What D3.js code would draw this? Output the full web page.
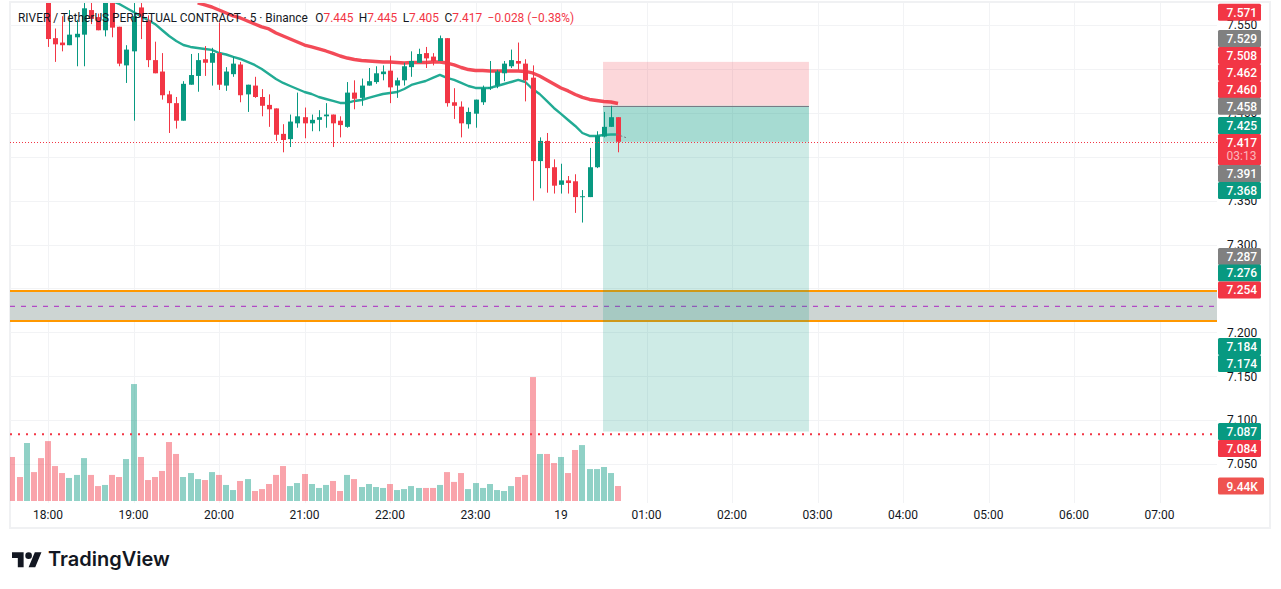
<!DOCTYPE html>
<html>
<head>
<meta charset="utf-8">
<script src="https://cdnjs.cloudflare.com/ajax/libs/d3/7.8.5/d3.min.js"></script>
<style>
  html, body { margin: 0; padding: 0; background: #fff; overflow: hidden; }
  text { font-family: Roboto, sans-serif; }
</style>
</head>
<body>
<div id="chart"></div>
<script>
// first bar in the lists below sits 5 bars before 18:00
let firstBar = -5;

let open = [7.66,7.645,7.635,7.66,7.645,7.615,
  7.535,7.530,7.527,7.536,7.539,7.567,7.559,7.544,7.575,7.548,
  7.504,7.520,7.570,7.555,7.510,7.497,7.471,7.461,7.441,7.482,
  7.492,7.511,7.507,7.518,7.481,7.494,7.505,7.471,7.481,7.468,
  7.459,7.455,7.426,7.420,7.438,7.445,7.438,7.442,7.446,7.448,
  7.441,7.434,7.473,7.467,7.481,7.485,7.494,7.498,7.481,7.487,
  7.502,7.507,7.518,7.514,7.509,7.535,7.462,7.457,7.437,7.449,
  7.462,7.478,7.481,7.495,7.503,7.509,7.506,7.490,7.395,7.418,
  7.388,7.368,7.373,7.372,7.354,7.354,7.388,7.423,7.434,7.445];
let high = [7.665,7.65,7.665,7.665,7.65,7.62,
  7.546,7.560,7.567,7.556,7.575,7.578,7.563,7.585,7.577,7.548,
  7.527,7.575,7.575,7.561,7.531,7.518,7.475,7.468,7.486,7.517,
  7.518,7.526,7.524,7.553,7.502,7.514,7.508,7.482,7.491,7.477,
  7.471,7.455,7.437,7.448,7.473,7.456,7.448,7.453,7.461,7.448,
  7.446,7.485,7.487,7.489,7.501,7.503,7.504,7.515,7.490,7.507,
  7.520,7.523,7.525,7.518,7.538,7.535,7.478,7.463,7.456,7.465,
  7.481,7.509,7.499,7.509,7.522,7.530,7.511,7.504,7.422,7.427,
  7.397,7.392,7.378,7.380,7.362,7.410,7.429,7.451,7.458,7.445];
let low = [7.64,7.63,7.63,7.64,7.61,7.525,
  7.508,7.520,7.527,7.503,7.503,7.551,7.544,7.537,7.536,7.503,
  7.484,7.441,7.534,7.502,7.495,7.465,7.427,7.432,7.441,7.482,
  7.474,7.492,7.481,7.476,7.475,7.491,7.462,7.451,7.467,7.446,
  7.434,7.418,7.405,7.411,7.433,7.421,7.429,7.429,7.433,7.411,
  7.422,7.433,7.454,7.458,7.481,7.483,7.487,7.461,7.467,7.481,
  7.491,7.507,7.501,7.504,7.509,7.457,7.443,7.422,7.432,7.433,
  7.459,7.476,7.478,7.486,7.501,7.499,7.463,7.350,7.364,7.359,
  7.358,7.358,7.358,7.336,7.325,7.354,7.387,7.422,7.434,7.405];
let close = [7.645,7.635,7.66,7.645,7.615,7.534,
  7.528,7.527,7.539,7.540,7.569,7.557,7.544,7.577,7.547,7.506,
  7.522,7.560,7.560,7.510,7.495,7.470,7.461,7.441,7.483,7.493,
  7.510,7.507,7.518,7.482,7.497,7.506,7.470,7.482,7.468,7.458,
  7.454,7.425,7.419,7.440,7.446,7.438,7.442,7.445,7.448,7.438,
  7.436,7.473,7.466,7.481,7.486,7.495,7.497,7.479,7.487,7.503,
  7.509,7.517,7.512,7.509,7.535,7.461,7.458,7.438,7.451,7.465,
  7.478,7.479,7.497,7.506,7.510,7.506,7.487,7.395,7.418,7.387,
  7.367,7.373,7.370,7.354,7.355,7.388,7.424,7.434,7.445,7.417];
// volume in thousands
let volume = [27.7,15.1,36.5,18.2,27.0,37.7,
  22.0,17.6,14.5,16.4,27.0,16.4,9.4,10.1,16.4,15.1,
  26.4,73.6,27.7,13.2,15.1,18.9,37.1,29.6,15.1,17.6,
  13.8,13.2,18.2,16.4,10.1,6.9,12.6,13.8,6.3,7.5,
  10.7,16.4,22.0,9.4,11.3,17.0,10.7,8.2,10.1,12.6,
  6.3,16.4,13.8,8.8,10.7,8.8,8.2,10.7,6.9,7.5,
  9.4,8.2,8.2,8.2,10.1,18.2,12.0,17.6,7.5,11.3,
  8.2,10.7,6.9,6.3,9.4,15.1,16.4,78.0,29.6,29.6,
  23.9,27.7,17.6,32.1,35.2,20.1,20.1,21.4,17.6,9.44];

// slow average, first value at bar 21
let slowStart = 21;
let slowMa = [7.5751,7.5728,7.5705,7.5671,7.5637,7.5603,7.5580,7.5546,7.5512,7.5478,
  7.5455,7.5409,7.5375,7.5341,7.5307,7.5272,7.5250,7.5227,7.5204,7.5176,
  7.5147,7.5124,7.5107,7.5096,7.5090,7.5085,7.5079,7.5079,7.5073,7.5067,
  7.5073,7.5073,7.5073,7.5079,7.5079,7.5067,7.5045,7.5016,7.4993,7.4982,
  7.4982,7.4976,7.4976,7.4976,7.4976,7.4976,7.4971,7.4954,7.4919,7.4874,
  7.4828,7.4783,7.4749,7.4709,7.4675,7.4652,7.4640,7.4629,7.4623,7.4606];
// fast average, first value at bar 9
let fastStart = 9;
let fastMa = [7.5774,7.5739,7.5694,7.5648,7.5603,7.5557,7.5512,7.5443,7.5375,7.5318,
  7.5272,7.5250,7.5238,7.5227,7.5216,7.5181,7.5164,7.5136,7.5113,7.5079,
  7.5045,7.4999,7.4942,7.4885,7.4840,7.4805,7.4771,7.4737,7.4714,7.4680,
  7.4657,7.4635,7.4612,7.4612,7.4635,7.4646,7.4669,7.4692,7.4714,7.4726,
  7.4737,7.4771,7.4817,7.4840,7.4862,7.4897,7.4931,7.4897,7.4874,7.4840,
  7.4805,7.4783,7.4783,7.4783,7.4805,7.4828,7.4851,7.4874,7.4851,7.4771,
  7.4714,7.4635,7.4555,7.4487,7.4418,7.4350,7.4270,7.4236,7.4236,7.4247,7.4253,7.4253];

let priceTicks = [7.05,7.10,7.15,7.20,7.25,7.30,7.35,7.40,7.45,7.50,7.55];
let timeBars = [0,12,24,36,48,60,72,84,96,108,120,132,144,156];
let timeLabels = ["18:00","19:00","20:00","21:00","22:00","23:00","19","01:00","02:00","03:00","04:00","05:00","06:00","07:00"];

// trade drawing
let stopPrice = 7.508, entryPrice = 7.458, targetPrice = 7.087, lastPrice = 7.417;
let tradeBars = [77.9, 106.8];
let tradeLinkBars = [79.8, 81.2], tradeLinkPrices = [7.4255, 7.4215];
let zoneTop = 7.247, zoneMid = 7.2296, zoneBottom = 7.2129;
let alertPrice = 7.084;

// right hand price tags
let tagValues = [7.571,7.529,7.508,7.462,7.460,7.458,7.425,7.417,7.391,7.368,7.287,7.276,7.254,7.184,7.174,7.087,7.084];
let tagKinds = ["r","g","r","r","r","g","t","r","g","t","g","t","r","t","t","t","r"];
let tagNudge = [5.8,-4.9,-6.4,-29.8,-14.5,0.5,-9.2,0.7,8.9,5.7,0.6,7.4,5.1,0.2,8.4,0,14.4];

// legend line
let legendTitle = "RIVER / TetherUS PERPETUAL CONTRACT · 5 · Binance";
let legendNames = ["O","H","L","C"];
let legendValues = [7.445,7.445,7.405,7.417];
let legendChange = "−0.028 (−0.38%)";

let W = 1281, H = 589;
let red = "#f23645", teal = "#089981", gray = "#808080", ink = "#131722";
let gridCol = "#f2f3f5";
let plotL = 10, plotR = 1217, plotT = 3, plotB = 503;

let x = d3.scaleLinear().domain([0, 1]).range([48, 55.125]);
let y = d3.scaleLinear().domain([7.05, 7.55]).range([464, 25]);
let yVol = d3.scaleLinear().domain([0, 9.44]).range([501, 486]);

let svg = d3.select("#chart").append("svg")
  .attr("width", W).attr("height", H)
  .style("display", "block");

svg.append("defs").append("clipPath").attr("id", "plot")
  .append("rect").attr("x", plotL).attr("y", plotT)
  .attr("width", plotR - plotL).attr("height", plotB - plotT);

// outer frame
svg.append("rect").attr("x", 10).attr("y", 2).attr("width", 1260).attr("height", 526)
  .attr("fill", "none").attr("stroke", "#f0f1f3").attr("stroke-width", 2);

// grid
svg.append("g").selectAll("line").data(priceTicks).enter().append("line")
  .attr("x1", plotL).attr("x2", plotR)
  .attr("y1", d => Math.round(y(d)) + 0.5).attr("y2", d => Math.round(y(d)) + 0.5)
  .attr("stroke", gridCol);
svg.append("g").selectAll("line").data(timeBars).enter().append("line")
  .attr("x1", d => Math.round(x(d)) + 0.5).attr("x2", d => Math.round(x(d)) + 0.5)
  .attr("y1", plotT).attr("y2", plotB)
  .attr("stroke", gridCol);

// axes
let yAxis = d3.axisRight(y).tickValues(priceTicks).tickSize(0).tickFormat(d3.format(".3f"));
let yg = svg.append("g").attr("transform", "translate(1227,0)").call(yAxis);
yg.select(".domain").remove();
yg.selectAll("text").attr("x", 0).attr("fill", ink).style("font-size", "12px").style("font-family", "Roboto, sans-serif");

let xAxis = d3.axisBottom(x).tickValues(timeBars).tickSize(0).tickFormat((d, i) => timeLabels[i]);
let xg = svg.append("g").attr("transform", "translate(-0.5,503)").call(xAxis);
xg.select(".domain").remove();
xg.selectAll("text").attr("y", 7).attr("fill", ink).style("font-size", "12px").style("font-family", "Roboto, sans-serif");

let plot = svg.append("g").attr("clip-path", "url(#plot)");

// support zone
plot.append("rect").attr("x", plotL).attr("width", plotR - plotL)
  .attr("y", y(zoneTop)).attr("height", y(zoneBottom) - y(zoneTop))
  .attr("fill", "#cdd5d3");
plot.selectAll(".zoneline").data([zoneTop, zoneBottom]).enter().append("line")
  .attr("x1", plotL).attr("x2", plotR)
  .attr("y1", d => y(d)).attr("y2", d => y(d))
  .attr("stroke", "#ff9800").attr("stroke-width", 2);
plot.append("line").attr("x1", plotL).attr("x2", plotR)
  .attr("y1", y(zoneMid)).attr("y2", y(zoneMid))
  .attr("stroke", "#ab27c4").attr("stroke-dasharray", "5,6");

// long position box
let tx0 = x(tradeBars[0]), tx1 = x(tradeBars[1]);
plot.append("rect").attr("x", tx0).attr("width", tx1 - tx0)
  .attr("y", y(stopPrice)).attr("height", y(entryPrice) - y(stopPrice))
  .attr("fill", red).attr("fill-opacity", 0.2);
plot.append("rect").attr("x", tx0).attr("width", tx1 - tx0)
  .attr("y", y(entryPrice)).attr("height", y(targetPrice) - y(entryPrice))
  .attr("fill", teal).attr("fill-opacity", 0.2);
plot.append("rect").attr("x", tx0).attr("width", tx1 - tx0)
  .attr("y", y(entryPrice)).attr("height", y(lastPrice) - y(entryPrice))
  .attr("fill", teal).attr("fill-opacity", 0.2);
plot.append("line").attr("x1", tx0).attr("x2", tx1)
  .attr("y1", Math.round(y(entryPrice)) + 0.5).attr("y2", Math.round(y(entryPrice)) + 0.5)
  .attr("stroke", "#787b86");

let bars = open.map((o, i) => ({
  bar: firstBar + i, o: o, h: high[i], l: low[i], c: close[i], v: volume[i]
}));
let colorOf = d => d.c >= d.o ? teal : red;

// volume
plot.append("g").selectAll("rect").data(bars).enter().append("rect")
  .attr("x", d => Math.round(x(d.bar)) - 3).attr("width", 6)
  .attr("y", d => yVol(d.v)).attr("height", d => yVol(0) - yVol(d.v))
  .attr("fill", colorOf).attr("fill-opacity", 0.45);

// averages
let lineOf = start => d3.line().x((d, i) => x(start + i)).y(d => y(d));
plot.append("path").datum(fastMa).attr("d", lineOf(fastStart))
  .attr("fill", "none").attr("stroke", "#22ab94").attr("stroke-width", 2.4).attr("stroke-linejoin", "round");
plot.append("path").datum(slowMa).attr("d", lineOf(slowStart))
  .attr("fill", "none").attr("stroke", red).attr("stroke-opacity", 0.9).attr("stroke-width", 3.4).attr("stroke-linejoin", "round");

// candles
let candles = plot.append("g").selectAll("g").data(bars).enter().append("g");
candles.append("line")
  .attr("x1", d => Math.round(x(d.bar)) + 0.5).attr("x2", d => Math.round(x(d.bar)) + 0.5)
  .attr("y1", d => y(d.h)).attr("y2", d => y(d.l))
  .attr("stroke", colorOf);
candles.append("rect")
  .attr("x", d => Math.round(x(d.bar)) - 2).attr("width", 5)
  .attr("y", d => y(Math.max(d.o, d.c)))
  .attr("height", d => Math.max(1, Math.abs(y(d.o) - y(d.c))))
  .attr("fill", colorOf);

// small dashed link of the position drawing
plot.append("line")
  .attr("x1", x(tradeLinkBars[0])).attr("x2", x(tradeLinkBars[1]))
  .attr("y1", y(tradeLinkPrices[0])).attr("y2", y(tradeLinkPrices[1]))
  .attr("stroke", "#787b86").attr("stroke-dasharray", "2,2");

// price lines
plot.append("line").attr("x1", plotL).attr("x2", plotR)
  .attr("y1", Math.round(y(lastPrice)) + 0.5).attr("y2", Math.round(y(lastPrice)) + 0.5)
  .attr("stroke", red).attr("stroke-dasharray", "1,2");
plot.append("line").attr("x1", plotL).attr("x2", plotR)
  .attr("y1", y(alertPrice)).attr("y2", y(alertPrice))
  .attr("stroke", red).attr("stroke-width", 2).attr("stroke-dasharray", "2,6");

// tags
let tagCol = { r: red, g: gray, t: teal };
let tags = svg.append("g").selectAll("g").data(tagValues).enter().append("g")
  .attr("transform", (d, i) => "translate(1218," + (y(d) + tagNudge[i]) + ")");
tags.append("rect").attr("y", -8.5).attr("width", 43)
  .attr("height", d => d === lastPrice ? 31 : 17)
  .attr("rx", 1.5)
  .attr("fill", (d, i) => tagCol[tagKinds[i]]);
tags.append("text").attr("x", 8.5).attr("y", 4.5)
  .attr("fill", "#fff").style("font-size", "12px").style("font-weight", 500)
  .text(d => d.toFixed(3));
tags.filter(d => d === lastPrice).append("text")
  .attr("x", 8.5).attr("y", 18)
  .attr("fill", "#fff").attr("fill-opacity", 0.65).style("font-size", "12px").text("03:13");

let lastVol = volume[volume.length - 1];
let volTag = svg.append("g").attr("transform", "translate(1218," + yVol(lastVol) + ")");
volTag.append("rect").attr("y", -8.5).attr("width", 46).attr("height", 17).attr("rx", 1.5)
  .attr("fill", "#ef5350");
volTag.append("text").attr("x", 8.5).attr("y", 4.5)
  .attr("fill", "#fff").style("font-size", "12px").style("font-weight", 500)
  .text(lastVol + "K");

// legend
let legend = svg.append("text").attr("x", 18).attr("y", 21.5)
  .attr("fill", ink).style("font-size", "11.9px");
legend.append("tspan").text(legendTitle);
legendNames.forEach((n, i) => {
  legend.append("tspan").attr("dx", i === 0 ? 7.5 : 5.5).text(n);
  legend.append("tspan").attr("fill", red).text(legendValues[i].toFixed(3));
});
legend.append("tspan").attr("dx", 5.5).attr("fill", red).text(legendChange);

// logo
let logo = svg.append("g").attr("transform", "translate(12,546.5) scale(0.83)").attr("fill", "#131722");
logo.append("path").attr("d", "M14 25H7V14H0V7h14v18zM28 25h-8l7.5-18h8L28 25z");
logo.append("circle").attr("cx", 20).attr("cy", 11).attr("r", 4);
svg.append("text").attr("x", 48).attr("y", 566).attr("fill", "#131722")
  .style("font-family", "Inter, sans-serif").style("font-size", "20px").style("font-weight", 600)
  .text("TradingView");
</script>
</body>
</html>
